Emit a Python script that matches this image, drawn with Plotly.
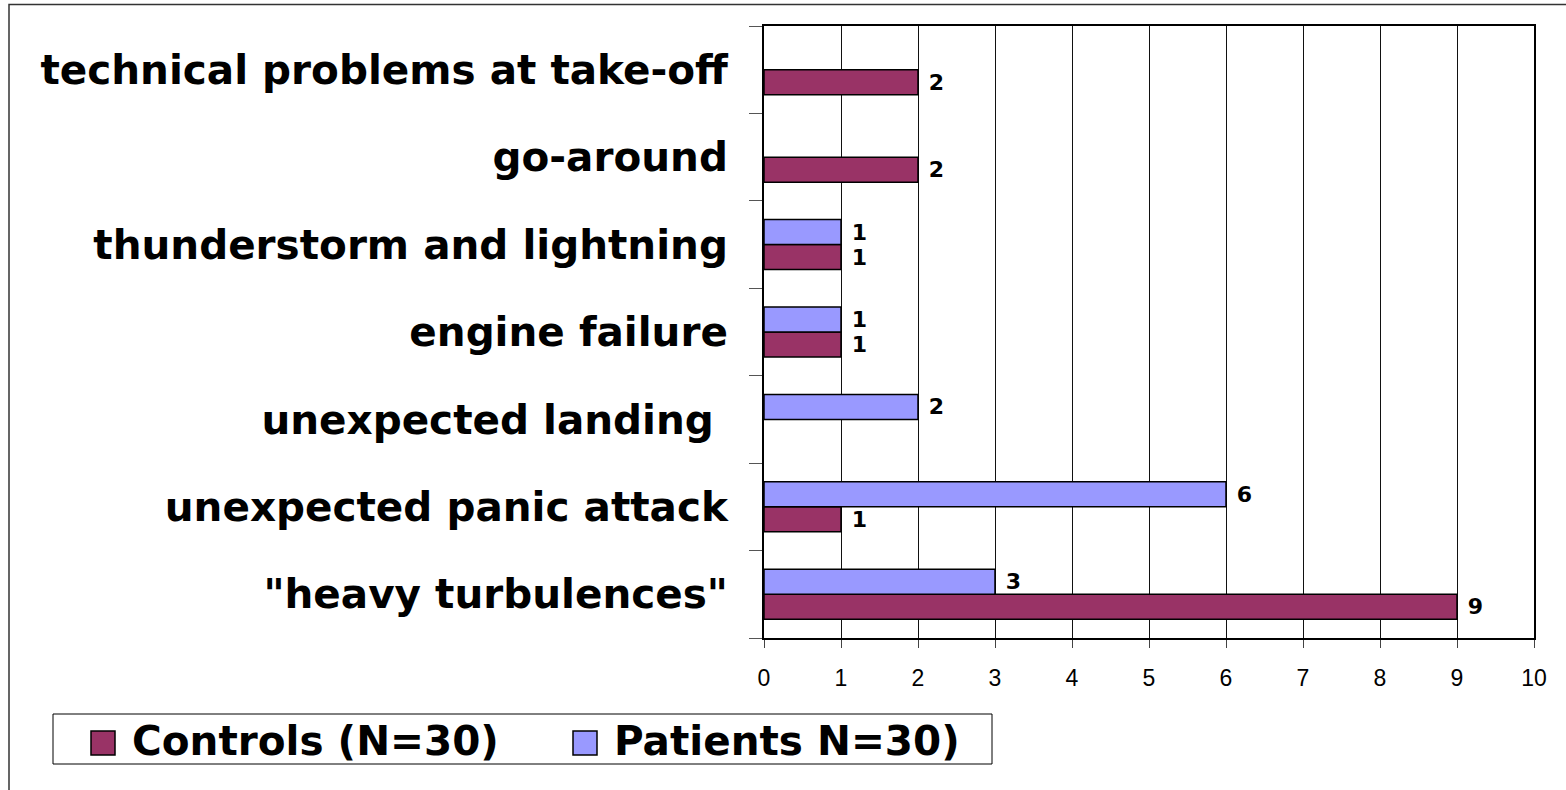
import plotly.graph_objects as go

categories = [
    '"heavy turbulences"',
    "unexpected panic attack",
    "unexpected landing\u00a0",
    "engine failure",
    "thunderstorm and lightning",
    "go-around",
    "technical problems at take-off",
]
controls = [9, 1, None, 1, 1, 2, 2]
patients = [3, 6, 2, 1, 1, None, None]
series_names = ["Controls (N=30)", "Patients N=30)"]
series_colors = ["#993366", "#9999FF"]
x_ticks = list(range(0, 11))

W, H = 1566, 790
L, R, T, B = 764, 1534, 26, 638  # plot area in pixels
pw, ph = R - L, B - T


def px(xs):
    return (xs - L) / pw


def py(ys):
    return (B - ys) / ph


label_font = dict(family="DejaVu Sans", size=22, color="black", weight="bold")
big_font = dict(family="DejaVu Sans", size=40.5, color="black", weight="bold")

fig = go.Figure()
for name, vals, col in zip(series_names, [controls, patients], series_colors):
    fig.add_trace(go.Bar(
        name=name, y=categories, x=vals, orientation="h",
        marker=dict(color=col, line=dict(color="black", width=1.5)),
        texttemplate="\u00a0%{x}", textposition="outside",
        textfont=label_font, outsidetextfont=label_font,
        constraintext="none", cliponaxis=False, hoverinfo="skip",
        showlegend=False,
    ))

# outer frame and legend (box + swatches + text)
shapes = [
    dict(type="rect", xref="paper", yref="paper",
         x0=px(9), x1=px(1600), y0=py(830), y1=py(4.5),
         line=dict(color="#333", width=1.5), fillcolor="rgba(0,0,0,0)", layer="below"),
    dict(type="rect", xref="paper", yref="paper",
         x0=px(53), x1=px(992), y0=py(764), y1=py(714),
         line=dict(color="black", width=1), fillcolor="white", layer="below"),
]
annotations = []
for (sx, tx), name, col in zip([(91, 130), (573, 612)], series_names, series_colors):
    shapes.append(dict(type="rect", xref="paper", yref="paper",
                       x0=px(sx), x1=px(sx + 24), y0=py(755), y1=py(731),
                       line=dict(color="black", width=1.5), fillcolor=col))
    annotations.append(dict(xref="paper", yref="paper", x=px(tx), y=py(741),
                            xanchor="left", yanchor="middle", showarrow=False,
                            text=name, font=big_font))

fig.update_layout(
    width=W, height=H,
    margin=dict(l=L, r=W - R, t=T, b=H - B, pad=0),
    paper_bgcolor="white", plot_bgcolor="white",
    barmode="group", bargap=0.428, bargroupgap=0,
    showlegend=False,
    xaxis=dict(
        range=[0, 10], tickvals=x_ticks, ticktext=[str(v) for v in x_ticks],
        showgrid=True, gridcolor="#111", gridwidth=1,
        showline=True, linecolor="black", linewidth=2, mirror=True,
        ticks="outside", ticklen=8, tickcolor="#444", tickwidth=1,
        ticklabelstandoff=10,
        tickfont=dict(family="Liberation Sans", size=23, color="black"),
        zeroline=False, fixedrange=True,
    ),
    yaxis=dict(
        type="category", categoryorder="array", categoryarray=categories,
        showgrid=False, showline=True, linecolor="black", linewidth=2, mirror=True,
        ticks="outside", ticklen=13, tickcolor="#555", tickwidth=1,
        tickson="boundaries", ticklabelstandoff=26,
        tickfont=big_font,
        zeroline=False, fixedrange=True,
    ),
    shapes=shapes,
    annotations=annotations,
)

fig.write_html(
    "out.html",
    config={"displayModeBar": False},
    post_script="document.body.style.margin='0';document.body.style.overflow='hidden';",
)
